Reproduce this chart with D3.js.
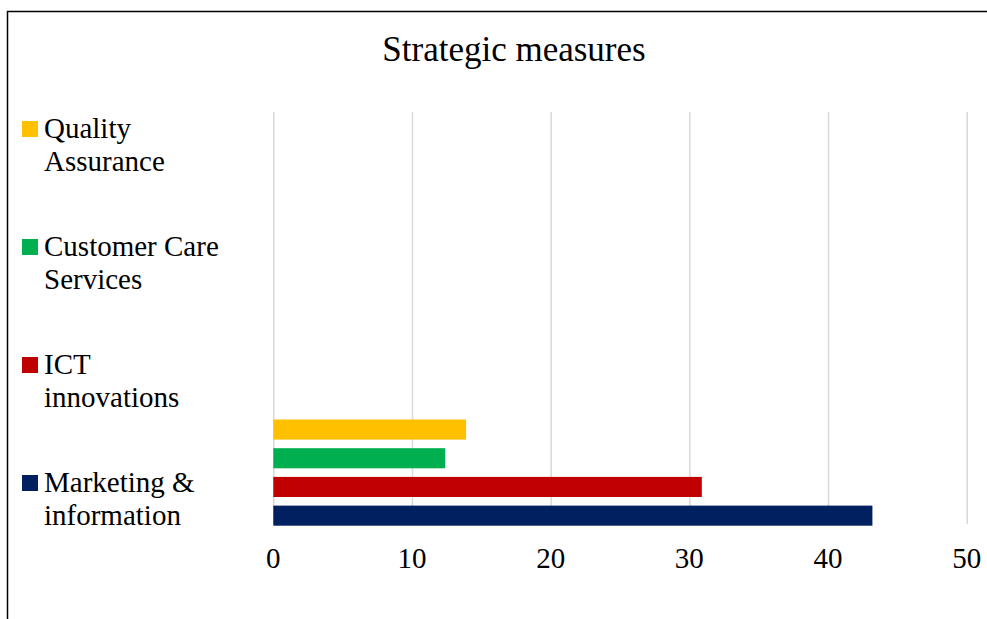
<!DOCTYPE html>
<html lang="en">
<head>
<meta charset="UTF-8">
<title>Strategic measures</title>
<script src="https://d3js.org/d3.v7.min.js"></script>
<style>
  body { margin: 0; background: #fff; }
  .grid line { stroke: #d9d9d9; stroke-width: 1.5; }
  .grid path { display: none; }
  .tick-label { font-size: 29px; fill: #000; }
</style>
</head>
<body>
<div id="chart"></div>
<script>
// Data
const title = "Strategic measures";
const seriesNames = ["Quality Assurance", "Customer Care Services", "ICT innovations", "Marketing & information"];
const legendLines = [["Quality", "Assurance"], ["Customer Care", "Services"], ["ICT", "innovations"], ["Marketing &", "information"]];
const seriesValues = [13.9, 12.4, 30.9, 43.2];
const seriesColors = ["#FFC000", "#00B050", "#C00000", "#002060"];
const xTicks = [0, 10, 20, 30, 40, 50];

const width = 987, height = 619;
const serif = "Liberation Serif";

const svg = d3.select('#chart').append('svg')
  .attr('width', width)
  .attr('height', height)
  .attr('font-family', serif);

// outer chart frame (runs past the right/bottom edges)
svg.append('rect')
  .attr('x', 7.5).attr('y', 11.5)
  .attr('width', 1000).attr('height', 700)
  .attr('fill', 'none')
  .attr('stroke', '#000')
  .attr('stroke-width', 1.5);

// title
svg.append('text')
  .attr('x', 514).attr('y', 61)
  .attr('text-anchor', 'middle')
  .attr('font-family', serif)
  .style('font-size', '35px')
  .text(title);

// scales
const x = d3.scaleLinear().domain([0, 50]).range([273.3, 966.7]);
const y = d3.scaleBand().domain(seriesNames).range([419.5, 525.7]).paddingInner(0.3).paddingOuter(0);

// gridlines
svg.append('g')
  .attr('class', 'grid')
  .attr('transform', 'translate(0,524)')
  .call(d3.axisBottom(x).tickValues(xTicks).tickSize(-412).tickFormat(''));

// bars
svg.selectAll('.bar')
  .data(seriesNames)
  .enter()
  .append('rect')
  .attr('class', 'bar')
  .attr('x', x(0))
  .attr('y', d => y(d))
  .attr('width', (d, i) => x(seriesValues[i]) - x(0))
  .attr('height', y.bandwidth())
  .attr('fill', (d, i) => seriesColors[i]);

// x tick labels
svg.selectAll('.tick-label')
  .data(xTicks)
  .enter()
  .append('text')
  .attr('class', 'tick-label')
  .attr('x', d => x(d))
  .attr('y', 568)
  .attr('text-anchor', 'middle')
  .attr('font-family', serif)
  .text(d => d);

// legend
const ly = d3.scalePoint().domain(seriesNames).range([138, 492]);
const legend = svg.selectAll('.legend')
  .data(seriesNames)
  .enter()
  .append('g')
  .attr('class', 'legend')
  .attr('transform', d => `translate(0,${ly(d)})`);

legend.append('rect')
  .attr('x', 22).attr('y', -17)
  .attr('width', 16).attr('height', 16)
  .attr('fill', (d, i) => seriesColors[i]);

legend.append('text')
  .attr('x', 44).attr('y', 0)
  .attr('font-family', serif)
  .style('font-size', '29px')
  .selectAll('tspan')
  .data((d, i) => legendLines[i])
  .enter()
  .append('tspan')
  .attr('x', 44)
  .attr('dy', (d, j) => j === 0 ? 0 : 33)
  .text(d => d);
</script>
</body>
</html>
